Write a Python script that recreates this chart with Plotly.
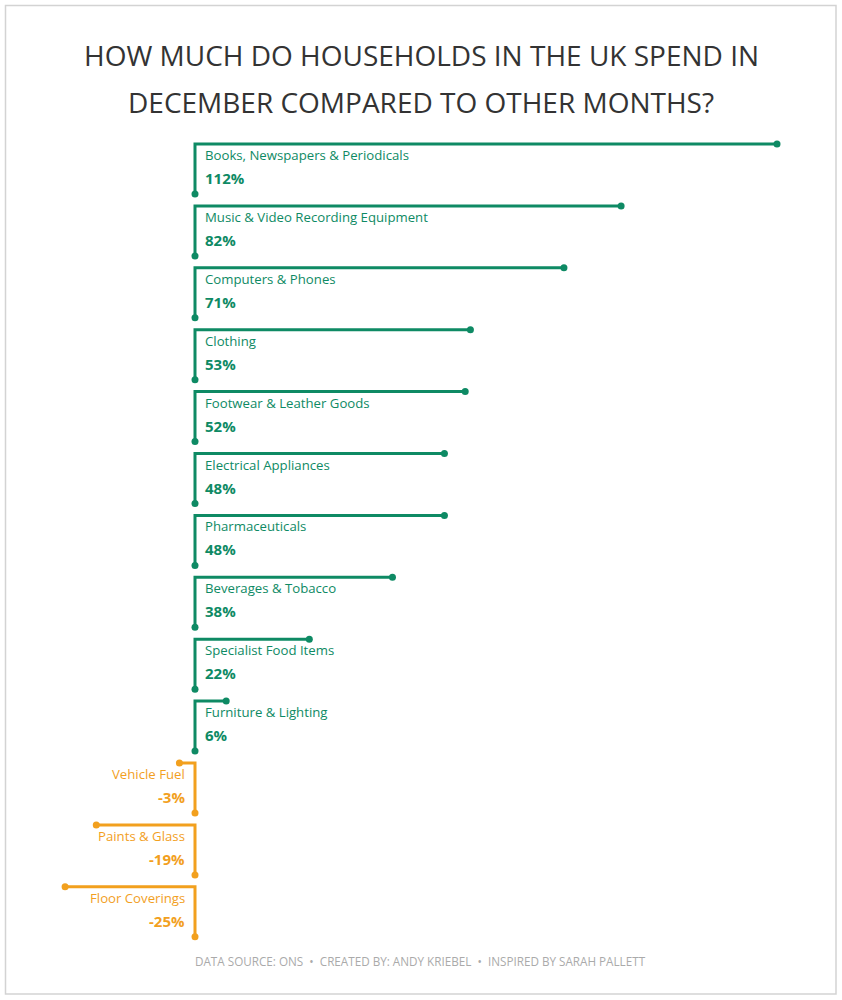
import plotly.graph_objects as go

categories = [
    "Books, Newspapers & Periodicals",
    "Music & Video Recording Equipment",
    "Computers & Phones",
    "Clothing",
    "Footwear & Leather Goods",
    "Electrical Appliances",
    "Pharmaceuticals",
    "Beverages & Tobacco",
    "Specialist Food Items",
    "Furniture & Lighting",
    "Vehicle Fuel",
    "Paints & Glass",
    "Floor Coverings",
]
values = [112, 82, 71, 53, 52, 48, 48, 38, 22, 6, -3, -19, -25]

title_lines = ["HOW MUCH DO HOUSEHOLDS IN THE UK SPEND IN",
               "DECEMBER COMPARED TO OTHER MONTHS?"]
footer_text = "DATA SOURCE: ONS  \u2022  CREATED BY: ANDY KRIEBEL  \u2022  INSPIRED BY SARAH PALLETT"

GREEN = "#0E8A64"
ORANGE = "#F2A01E"
FONT = "Open Sans"

W, H = 842, 1000
x0_px = 195.0
px_per_unit = 582.0 / 112.0
row_top0 = 144.0
row_step = 61.9
stem = 50.0 / row_step

x_range = [-x0_px / px_per_unit, (W - x0_px) / px_per_unit]
y_range = [(H - row_top0) / row_step, -row_top0 / row_step]

fig = go.Figure()
annotations = []
for i, (cat, v) in enumerate(zip(categories, values)):
    col = GREEN if v >= 0 else ORANGE
    fig.add_trace(go.Scatter(
        x=[0, 0, v], y=[i + stem, i, i], mode="lines",
        line=dict(color=col, width=3), hoverinfo="skip", showlegend=False,
    ))
    fig.add_trace(go.Scatter(
        x=[0, v], y=[i + stem, i], mode="markers",
        marker=dict(color=col, size=7), hoverinfo="skip", showlegend=False,
    ))
    pos = v >= 0
    anchor = "left" if pos else "right"
    shift = 8 if pos else -8
    annotations.append(dict(
        x=0, y=i + 11 / row_step, xref="x", yref="y", text=cat,
        showarrow=False, xanchor=anchor, yanchor="middle", xshift=shift,
        font=dict(family=FONT, size=13.2, color=col),
    ))
    annotations.append(dict(
        x=0, y=i + 34 / row_step, xref="x", yref="y", text=f"<b>{v}%</b>",
        showarrow=False, xanchor=anchor, yanchor="middle", xshift=shift,
        font=dict(family=FONT, size=15, color=col),
    ))

for line, ypx in zip(title_lines, [55, 102]):
    annotations.append(dict(
        x=421 / W, y=1 - ypx / H,
        xref="paper", yref="paper", text=line,
        showarrow=False, xanchor="center", yanchor="middle",
        font=dict(family=FONT, size=28, color="#333333"),
    ))
annotations.append(dict(
    x=420 / W, y=1 - 961 / H, xref="paper", yref="paper", text=footer_text,
    showarrow=False, xanchor="center", yanchor="middle",
    font=dict(family=FONT, size=11.7, color="#AAAAAA"),
))

fig.update_layout(
    width=W, height=H,
    margin=dict(l=0, r=0, t=0, b=0),
    paper_bgcolor="white", plot_bgcolor="white",
    xaxis=dict(range=x_range, visible=False, fixedrange=True),
    yaxis=dict(range=y_range, visible=False, fixedrange=True),
    annotations=annotations,
    shapes=[dict(type="rect", xref="paper", yref="paper",
                 x0=5.5 / W, x1=836 / W,
                 y0=1 - 994 / H, y1=1 - 5.5 / H,
                 line=dict(color="#D3D3D3", width=1.5))],
)

fig.write_html("out.html", config={"displayModeBar": False},
               post_script="document.body.style.margin='0px';document.body.style.overflow='hidden';")
